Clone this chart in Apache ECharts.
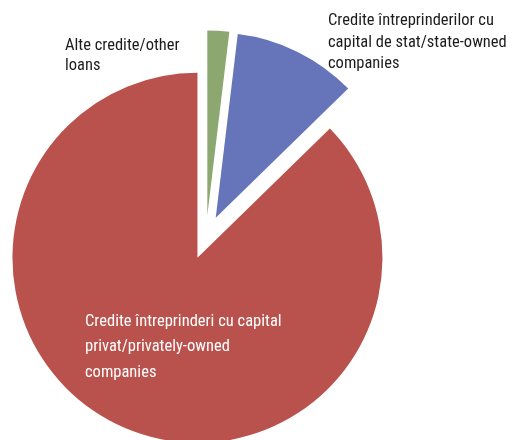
<!DOCTYPE html>
<html>
<head>
<meta charset="utf-8">
<script src="https://cdn.jsdelivr.net/npm/echarts@6/dist/echarts.min.js"></script>
<style>
html,body{margin:0;padding:0;background:#fff;}
#chart{width:512px;height:440px;}
</style>
</head>
<body>
<div id="chart"></div>
<script>
var categories = [
  'Alte credite/other\nloans',
  'Credite întreprinderilor cu\ncapital de stat/state-owned\ncompanies',
  'Credite întreprinderi cu capital\nprivat/privately-owned\ncompanies'
];
var values = [1.9, 10.8, 87.3];
var colors = ['#8CA870', '#6675B9', '#B9514C'];

var FONT = '"Roboto Condensed", "Liberation Sans Narrow", "DejaVu Sans Condensed", sans-serif';
var labelPos = [
  {x: 65, y: 35.5, lh: 20},
  {x: 328, y: 10.5, lh: 21.5},
  {x: 85, y: 309, lh: 25.5}
];
var CENTER = [206, 237.5];
var RADIUS = 185;

var chart = echarts.init(document.getElementById('chart'), null, {renderer: 'canvas'});

// Visible, exploded slices
var sliceData = categories.map(function (c, i) {
  return {
    name: c,
    value: values[i],
    selected: true,
    itemStyle: {color: colors[i]},
    select: {itemStyle: {color: colors[i]}}
  };
});

// Transparent overlay carrying the labels
var labelData = categories.map(function (c, i) {
  return {
    name: c,
    value: values[i],
    itemStyle: {color: 'rgba(0,0,0,0)'},
    label: {
      show: true,
      position: i === 2 ? 'inside' : 'outside',
      color: i === 2 ? '#ffffff' : '#1c1c1c',
      fontSize: 16.5,
      lineHeight: labelPos[i].lh,
      fontFamily: FONT,
      align: 'left'
    },
    labelLine: {show: false}
  };
});

chart.setOption({
  animation: false,
  backgroundColor: '#ffffff',
  series: [{
    type: 'pie',
    center: CENTER,
    radius: RADIUS,
    startAngle: 90,
    clockwise: true,
    selectedMode: 'multiple',
    selectedOffset: 22,
    emphasis: {disabled: true},
    itemStyle: {borderWidth: 0},
    label: {show: false},
    labelLine: {show: false},
    data: sliceData
  }, {
    type: 'pie',
    center: CENTER,
    radius: RADIUS,
    startAngle: 90,
    clockwise: true,
    silent: true,
    z: 10,
    avoidLabelOverlap: false,
    emphasis: {disabled: true},
    itemStyle: {borderWidth: 0},
    labelLine: {show: false},
    label: {formatter: '{b}'},
    labelLayout: function (p) {
      var lp = labelPos[p.dataIndex];
      return {x: lp.x, y: lp.y, align: 'left', verticalAlign: 'top'};
    },
    data: labelData
  }]
});
</script>
</body>
</html>
